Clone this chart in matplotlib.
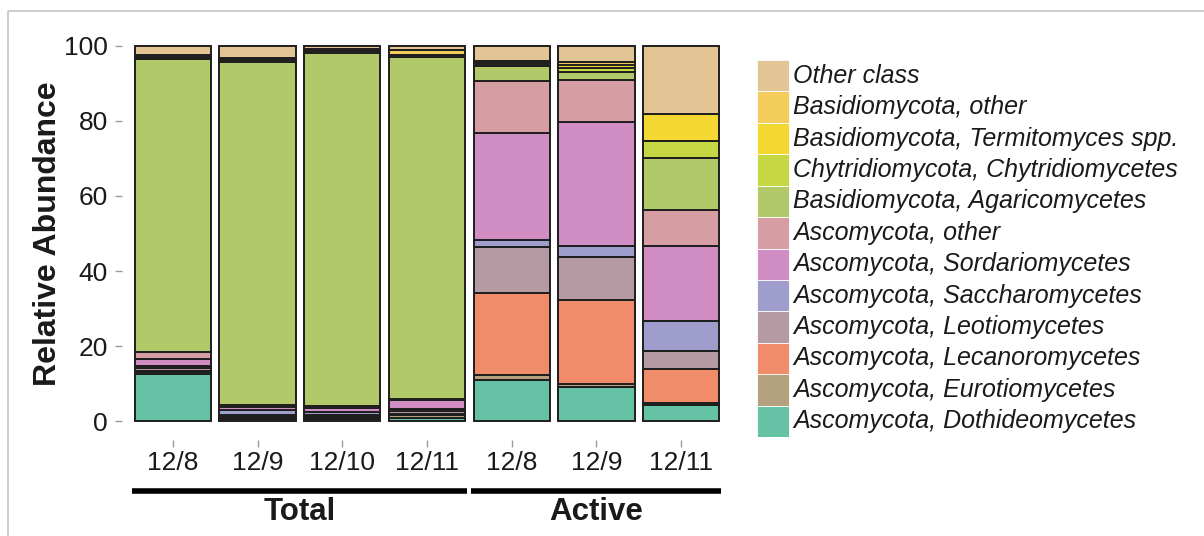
import matplotlib
matplotlib.use("Agg")
import matplotlib.pyplot as plt
import matplotlib.transforms as mtransforms
from matplotlib.patches import Rectangle
import numpy as np

plt.rcParams["font.family"] = ["Liberation Sans", "DejaVu Sans"]

# samples (x axis) and groups
samples = ["12/8", "12/9", "12/10", "12/11", "12/8", "12/9", "12/11"]
groups = ["Total", "Active"]
group_spans = [(0, 3), (4, 6)]

# relative abundance per class, one value per sample (bottom -> top)
dothideo = [12.5, 0.5, 0.6, 0.8, 10.9, 9.1, 4.2]
euroti = [0.5, 0.3, 0.3, 0.8, 1.5, 0.9, 0.7]
lecanoro = [0.5, 0.3, 0.3, 0.4, 21.7, 22.3, 8.9]
leotio = [0.8, 0.5, 0.4, 0.6, 12.3, 11.5, 5.0]
saccharo = [0.3, 1.3, 0.8, 0.6, 1.9, 2.9, 7.9]
sordario = [2.0, 0.9, 1.0, 2.4, 28.6, 32.9, 20.0]
asco_other = [1.8, 0.4, 0.6, 0.3, 13.6, 11.3, 9.6]
agarico = [78.0, 91.6, 94.0, 91.0, 4.0, 2.2, 13.8]
chytrid = [0.3, 0.3, 0.2, 0.2, 0.5, 0.9, 4.6]
termito = [0.3, 0.2, 0.3, 0.4, 0.4, 1.0, 7.2]
basid_other = [0.5, 0.5, 0.6, 1.5, 0.6, 0.8, 0.0]
other_class = [2.5, 3.2, 0.9, 1.0, 4.0, 4.2, 18.1]

class_names = [
    "Ascomycota, Dothideomycetes",
    "Ascomycota, Eurotiomycetes",
    "Ascomycota, Lecanoromycetes",
    "Ascomycota, Leotiomycetes",
    "Ascomycota, Saccharomycetes",
    "Ascomycota, Sordariomycetes",
    "Ascomycota, other",
    "Basidiomycota, Agaricomycetes",
    "Chytridiomycota, Chytridiomycetes",
    "Basidiomycota, Termitomyces spp.",
    "Basidiomycota, other",
    "Other class",
]
class_values = [dothideo, euroti, lecanoro, leotio, saccharo, sordario,
                asco_other, agarico, chytrid, termito, basid_other, other_class]
colors = ["#66c2a5", "#b4a27e", "#f08c6a", "#b59aa3", "#9e9dcb", "#cf8dc4",
          "#d69ea3", "#b2c96a", "#c5d843", "#f4d731", "#f3cc5c", "#e3c495"]

TEXT = "#1a1a1a"
W, H = 1204, 536

fig = plt.figure(figsize=(W / 100, H / 100), dpi=100)
fig.patch.set_facecolor("white")

# light frame (only top and left visible)
fig.patches.append(Rectangle((8 / W, 1 - 11 / H), 1.2, -1.2, transform=fig.transFigure,
                             fill=False, edgecolor="#c8c8c8", linewidth=1.3))

ax = fig.add_axes([122 / W, 1 - 440 / H, 610 / W, 413 / H])
x = np.arange(len(samples))
bottom = np.zeros(len(samples))
for vals, col in zip(class_values, colors):
    ax.bar(x, vals, width=0.9, bottom=bottom, color=col,
           edgecolor="#1e1e1e", linewidth=1.4, zorder=3)
    bottom += np.array(vals)

ax.set_xlim(-0.6, len(samples) - 0.4)
ax.set_ylim(-5, 105)
ax.set_xticks(x)
ax.set_xticklabels(samples)
ax.set_yticks([0, 20, 40, 60, 80, 100])
for s in ax.spines.values():
    s.set_visible(False)
ax.tick_params(axis="both", direction="out", length=5, width=1,
               color="#9a9a9a", labelsize=19, labelcolor=TEXT)
ax.tick_params(axis="y", pad=5)
ax.tick_params(axis="x", pad=3)
ax.set_ylabel("Relative Abundance", fontsize=23, fontweight="bold",
              color=TEXT, labelpad=1)

# group bars below the x axis
trans = mtransforms.blended_transform_factory(ax.transData, fig.transFigure)
for name, (a, b) in zip(groups, group_spans):
    ax.plot([a - 0.48, b + 0.47], [1 - 491 / H] * 2, color="black",
            linewidth=4, transform=trans, clip_on=False, solid_capstyle="butt")
    ax.text((a + b) / 2, 1 - 512 / H, name, transform=trans, ha="center",
            va="center", fontsize=22.5, fontweight="bold", color=TEXT)

# legend drawn as its own axes, top entry = last class
lax = fig.add_axes([757 / W, 1 - 437 / H, (W - 757) / W, 377 / H])
lax.set_xlim(0, W - 757)
lax.set_ylim(0, len(class_names))
lax.axis("off")
for i, (name, col) in enumerate(zip(class_names, colors)):
    lax.add_patch(Rectangle((0, i), 32, 1, facecolor=col, edgecolor="white",
                            linewidth=0.6))
    lax.text(36, i + 0.5, name, ha="left", va="center", fontsize=18,
             style="italic", color=TEXT)

fig.savefig("out.png", dpi=100, facecolor="white")
